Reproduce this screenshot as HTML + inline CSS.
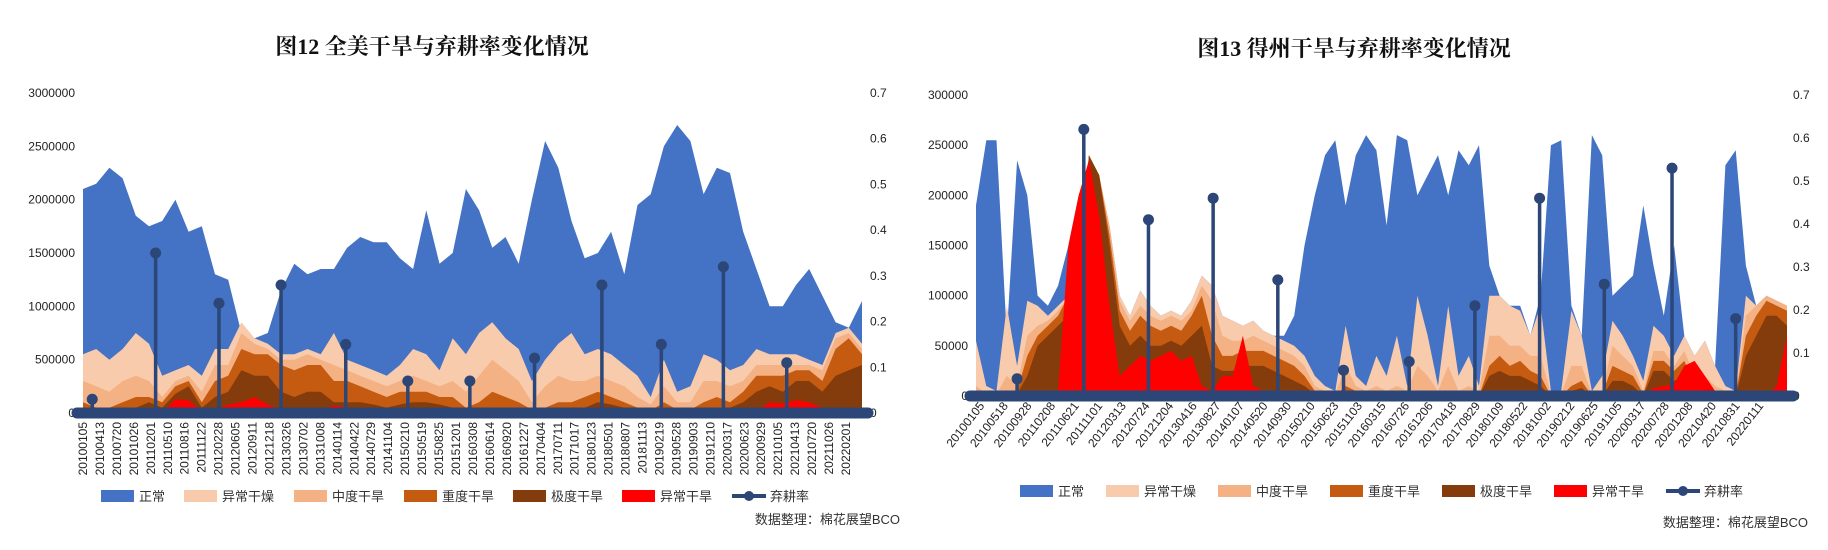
<!DOCTYPE html>
<html><head><meta charset="utf-8"><style>
html,body{margin:0;padding:0;background:#fff;}
svg{display:block;}
text{font-family:"Liberation Sans","Noto Sans CJK SC",sans-serif;}
.title{font-family:"Liberation Serif","Noto Serif CJK SC",serif;font-weight:bold;font-size:22px;fill:#111;}
.tick{font-size:12px;fill:#222;}
.leg{font-size:13px;fill:#333;}
</style></head><body>
<svg id="root" width="1828" height="550" viewBox="0 0 1828 550" xmlns="http://www.w3.org/2000/svg"></svg>
<script>
// ===== Chart 12 (US) data =====
const usTotal=[2.1,2.15,2.3,2.2,1.85,1.75,1.8,2.0,1.7,1.75,1.3,1.25,0.75,0.7,0.75,1.15,1.4,1.3,1.35,1.35,1.55,1.65,1.6,1.6,1.45,1.35,1.9,1.4,1.5,2.1,1.9,1.55,1.65,1.4,2.0,2.55,2.3,1.8,1.45,1.5,1.7,1.3,1.95,2.05,2.5,2.7,2.55,2.05,2.3,2.25,1.7,1.35,1.0,1.0,1.2,1.35,1.1,0.85,0.8,1.05];
const usD0=[0.55,0.6,0.5,0.6,0.75,0.65,0.35,0.4,0.45,0.35,0.6,0.6,0.85,0.7,0.65,0.55,0.55,0.6,0.55,0.75,0.5,0.45,0.4,0.35,0.45,0.6,0.55,0.4,0.7,0.55,0.75,0.85,0.7,0.6,0.3,0.5,0.65,0.75,0.55,0.6,0.55,0.45,0.35,0.15,0.5,0.2,0.25,0.55,0.5,0.4,0.45,0.6,0.55,0.55,0.55,0.5,0.45,0.75,0.8,0.65];
const usD1=[0.3,0.25,0.2,0.3,0.35,0.3,0.15,0.3,0.35,0.2,0.45,0.45,0.75,0.65,0.6,0.5,0.5,0.55,0.5,0.45,0.4,0.35,0.3,0.25,0.3,0.35,0.3,0.25,0.3,0.2,0.35,0.5,0.4,0.3,0.1,0.25,0.35,0.3,0.3,0.35,0.3,0.25,0.15,0.08,0.25,0.1,0.1,0.3,0.3,0.25,0.3,0.45,0.45,0.45,0.45,0.45,0.4,0.7,0.75,0.6];
const usD2=[0.1,0.05,0.05,0.1,0.15,0.15,0.1,0.25,0.3,0.1,0.3,0.35,0.6,0.55,0.55,0.45,0.4,0.45,0.45,0.3,0.3,0.25,0.2,0.15,0.2,0.2,0.2,0.15,0.15,0.05,0.1,0.2,0.15,0.1,0.03,0.05,0.1,0.1,0.15,0.2,0.15,0.1,0.05,0.02,0.1,0.03,0.03,0.1,0.15,0.1,0.2,0.35,0.35,0.35,0.4,0.4,0.3,0.6,0.7,0.55];
const usD3=[0.02,0.01,0.01,0.05,0.05,0.1,0.05,0.18,0.25,0.05,0.15,0.2,0.4,0.35,0.35,0.2,0.15,0.2,0.2,0.1,0.1,0.1,0.08,0.05,0.08,0.1,0.1,0.08,0.05,0.02,0.03,0.05,0.05,0.02,0.01,0.01,0.03,0.02,0.05,0.1,0.08,0.05,0.02,0.01,0.03,0.01,0.01,0.03,0.05,0.05,0.1,0.2,0.25,0.2,0.3,0.3,0.2,0.35,0.4,0.45];
const usD4=[0,0,0,0,0,0,0,0.13,0.12,0.02,0.03,0.08,0.1,0.15,0.08,0.03,0.05,0.03,0.02,0.07,0.05,0.05,0.04,0.03,0.05,0.04,0.03,0.03,0.01,0,0,0.01,0.01,0,0,0,0,0,0.01,0.02,0.01,0.01,0,0,0,0,0,0,0,0,0,0.02,0.1,0.09,0.12,0.1,0.05,0.01,0,0.03];
const usRateIdx=[0.7,5.5,10.3,15,19.9,24.6,29.3,34.2,39.3,43.8,48.5,53.3];
const usRate=[0.03,0.35,0.24,0.28,0.15,0.07,0.07,0.12,0.28,0.15,0.32,0.11];
const usLeftTicks=["0","500000","1000000","1500000","2000000","2500000","3000000"];
const usRightTicks=["0","0.1","0.2","0.3","0.4","0.5","0.6","0.7"];
const usDates=["20100105","20100413","20100720","20101026","20110201","20110510","20110816","20111122","20120228","20120605","20120911","20121218","20130326","20130702","20131008","20140114","20140422","20140729","20141104","20150210","20150519","20150825","20151201","20160308","20160614","20160920","20161227","20170404","20170711","20171017","20180123","20180501","20180807","20181113","20190219","20190528","20190903","20191210","20200317","20200623","20200929","20210105","20210413","20210720","20211026","20220201"];

// ===== Chart 13 (Texas) data, in thousands =====
const txTotal=[190,255,255,60,235,200,100,90,110,150,200,230,180,170,100,80,105,90,80,85,80,95,120,110,80,75,70,75,65,60,60,80,150,200,240,255,190,240,260,245,170,260,255,200,220,240,200,245,230,250,130,100,90,90,60,100,250,255,90,60,260,240,100,110,120,190,130,80,150,60,40,55,30,230,245,130,90,100,95,90];
const txD0=[55,10,5,90,30,95,90,80,90,100,110,240,220,170,100,80,105,90,80,85,80,95,120,110,80,75,70,75,65,60,55,50,40,20,10,5,70,20,10,40,20,60,10,100,60,10,90,20,40,10,100,100,90,85,60,90,5,5,85,60,5,20,75,60,40,15,70,60,40,60,40,55,30,10,5,100,90,100,95,90];
const txD1=[10,3,2,20,10,60,70,75,85,100,110,240,220,170,95,75,90,80,75,80,75,85,110,95,60,55,55,60,55,50,45,40,30,10,5,2,30,10,5,10,5,10,5,30,20,5,30,5,10,5,60,60,50,50,40,40,2,2,30,30,2,5,50,40,30,5,45,45,30,45,20,20,10,5,2,80,90,100,95,90];
const txD2=[2,0,0,5,5,40,60,70,80,100,110,240,220,160,85,65,80,70,65,70,65,80,100,60,40,40,45,45,45,40,35,30,20,5,2,0,10,5,0,2,0,2,0,5,5,0,5,0,2,0,30,40,30,35,25,20,0,0,10,15,0,2,30,25,20,2,35,35,25,35,10,5,2,2,0,60,80,95,90,85];
const txD3=[0,0,0,0,2,20,50,60,70,80,110,240,220,150,70,50,60,50,50,55,50,60,70,30,25,25,30,30,30,25,20,15,10,2,0,0,5,2,0,0,0,0,0,2,2,0,2,0,0,0,20,25,20,20,15,10,0,0,5,8,0,0,15,15,10,0,25,25,15,20,5,2,0,0,0,40,60,80,80,70];
const txD4=[0,0,0,0,0,0,0,0,5,150,200,235,180,90,20,30,40,35,40,45,35,40,10,5,20,20,60,10,5,5,5,2,0,0,0,0,0,0,0,0,0,0,0,0,0,0,0,0,0,0,0,0,0,0,0,0,0,0,0,0,0,0,0,0,5,0,8,10,12,30,35,20,5,0,0,0,0,0,10,60];
const txRateIdx=[4.0,10.5,16.8,23.1,29.4,35.8,42.2,48.6,54.9,61.2,67.8,74.0];
const txRate=[0.04,0.62,0.41,0.46,0.27,0.06,0.08,0.21,0.46,0.26,0.53,0.18];
const txLeftTicks=["0","50000","100000","150000","200000","250000","300000"];
const txRightTicks=["0","0.1","0.2","0.3","0.4","0.5","0.6","0.7"];
const txDates=["20100105","20100518","20100928","20110208","20110621","20111101","20120313","20120724","20121204","20130416","20130827","20140107","20140520","20140930","20150210","20150623","20151103","20160315","20160726","20161206","20170418","20170829","20180109","20180522","20181002","20190212","20190625","20191105","20200317","20200728","20201208","20210420","20210831","20220111"];

const legendNames=["正常","异常干燥","中度干旱","重度干旱","极度干旱","异常干旱","弃耕率"];
const colors=["#4472C4","#F8CBAD","#F4B183","#C55A11","#843C0C","#FF0000"];
const rateColor="#2B4677";
const NS="http://www.w3.org/2000/svg";
const root=document.getElementById('root');
function mk(tag,attrs,parent){const e=document.createElementNS(NS,tag);for(const k in attrs)e.setAttribute(k,attrs[k]);(parent||root).appendChild(e);return e;}

function chart(c){
  const g=mk('g',{});
  
  
  const n=c.layers[0].length;
  const xs=i=>c.x0+(c.x1-c.x0)*i/(n-1);
  const yL=v=>c.y0-(c.y0-c.yTop)*v/c.lmax;
  const yR=v=>c.y0-(c.y0-c.yTop)*v/0.7;
  const t=mk('text',{x:c.titleX,y:c.titleY,'text-anchor':'middle',class:'title'},g);t.textContent=c.title;
  
  
  c.lticks.forEach((s,i)=>{const v=c.lmax*i/(c.lticks.length-1);
    const e=mk('text',{x:c.x0-8,y:yL(v)+4,'text-anchor':'end',class:'tick'},g);e.textContent=s;
    
    });
  c.rticks.forEach((s,i)=>{const v=0.7*i/(c.rticks.length-1);
    const e=mk('text',{x:c.rx,y:yR(v)+4,'text-anchor':'start',class:'tick'},g);e.textContent=s;
    
    });
  c.layers.forEach((arr,li)=>{
    let d='M'+xs(0)+','+c.y0;
    arr.forEach((v,i)=>{d+=' L'+xs(i).toFixed(1)+','+yL(v*c.unit).toFixed(1);});
    d+=' L'+xs(n-1)+','+c.y0+' Z';
    const p=mk('path',{d:d,fill:colors[li]},g);
    
    
  });
  const bl=mk('line',{x1:c.x0-6,y1:c.y0,x2:c.x1+6,y2:c.y0,stroke:rateColor,'stroke-width':11,'stroke-linecap':'round'},g);
  
  
  c.rateIdx.forEach((ix,k)=>{
    const x=xs(ix),y=yR(c.rate[k]);
    const l=mk('line',{x1:x,y1:c.y0,x2:x,y2:y,stroke:rateColor,'stroke-width':3.5},g);
    
    
    const ci=mk('circle',{cx:x,cy:y,r:5.5,fill:rateColor},g);
    
    
  });
  c.dates.forEach((s,i)=>{
    const x=c.lx0+(c.lx1-c.lx0)*i/(c.dates.length-1);
    const e=mk('text',{x:x,y:c.ly,'text-anchor':'end',class:'tick',transform:'rotate('+c.rot+' '+x+' '+c.ly+')','font-size':c.rot===-90?'11.5':'12'},g);
    e.textContent=s;
    
    
  });
  c.legX.forEach((lx,i)=>{
    const lg=mk('g',{},g);
    
    
    if(i<6) mk('rect',{x:lx,y:c.legY-6,width:33,height:12,fill:colors[i]},lg);
    else {mk('line',{x1:lx,y1:c.legY,x2:lx+34,y2:c.legY,stroke:rateColor,'stroke-width':4},lg);mk('circle',{cx:lx+17,cy:c.legY,r:5,fill:rateColor},lg);}
    const e=mk('text',{x:lx+38,y:c.legY+5,class:'leg'},lg);e.textContent=legendNames[i];
  });
  const src=mk('text',{x:c.srcX,y:c.srcY,'text-anchor':'end',class:'leg','font-size':'13'},g);
  src.textContent='数据整理：棉花展望BCO';
  
  
}

chart({name:'us-drought-chart',title:'图12  全美干旱与弃耕率变化情况',titleX:432,titleY:54,
  layers:[usTotal,usD0,usD1,usD2,usD3,usD4],unit:1e6,lmax:3000000,
  x0:83,x1:862,y0:413,yTop:93,rx:870,lticks:usLeftTicks,rticks:usRightTicks,
  rateIdx:usRateIdx,rate:usRate,dates:usDates,lx0:87,lx1:850,ly:422,rot:-90,
  legX:[101,184,294,404,513,622,732],legY:496,srcX:900,srcY:524});
chart({name:'texas-drought-chart',title:'图13  得州干旱与弃耕率变化情况',titleX:1354,titleY:56,
  layers:[txTotal,txD0,txD1,txD2,txD3,txD4],unit:1000,lmax:300000,
  x0:976,x1:1787,y0:396,yTop:95,rx:1793,lticks:txLeftTicks,rticks:txRightTicks,
  rateIdx:txRateIdx,rate:txRate,dates:txDates,lx0:985,lx1:1764,ly:406,rot:-52,
  legX:[1020,1106,1218,1330,1442,1554,1666],legY:491,srcX:1808,srcY:527});
</script>
</body></html>
